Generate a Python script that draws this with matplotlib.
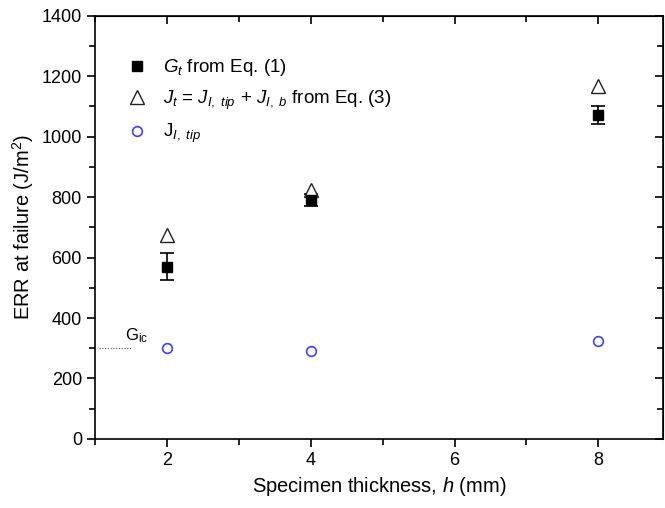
import matplotlib
matplotlib.use("Agg")
import matplotlib.pyplot as plt
from matplotlib.lines import Line2D
from matplotlib.ticker import MultipleLocator

# values
h = [2, 4, 8]
g_t = [570, 790, 1072]
g_t_err = [45, 20, 30]
j_t = [675, 822, 1169]
j_tip = [302, 291, 325]
g_ic = 300

plt.rcParams["font.family"] = "Liberation Sans"
plt.rcParams["mathtext.fontset"] = "custom"
plt.rcParams["mathtext.rm"] = "Liberation Sans"
plt.rcParams["mathtext.it"] = "Liberation Sans:italic"

fig = plt.figure(figsize=(6.65, 5.08), dpi=100)
ax = fig.add_axes([0.143, 0.136, 0.854, 0.833])

ax.errorbar(h, g_t, yerr=g_t_err, fmt="s", color="black", ms=6.5,
            capsize=5, elinewidth=1.2, capthick=1.2)
ax.plot(h, j_t, "^", mfc="white", mec="#222222", ms=10, mew=1.0, ls="none")
ax.plot(h, j_tip, "o", mfc="none", mec="#4040ff", ms=7, mew=1.2, ls="none")

# G_ic reference mark
ax.plot([1.05, 1.5], [g_ic, g_ic], ls=(0, (1, 1.5)), color="#555555", lw=0.8)
ax.text(1.42, g_ic + 12, r"G$_{\mathrm{ic}}$", fontsize=12, ha="left", va="bottom")

ax.set_xlim(1, 8.9)
ax.set_ylim(0, 1400)
ax.set_xticks([2, 4, 6, 8])
ax.xaxis.set_minor_locator(MultipleLocator(1))
ax.yaxis.set_major_locator(MultipleLocator(200))
ax.yaxis.set_minor_locator(MultipleLocator(100))

ax.tick_params(which="both", direction="out", width=1.2, labelsize=13)
ax.tick_params(which="major", length=6)
ax.tick_params(which="minor", length=4)
for s in ax.spines.values():
    s.set_linewidth(1.2)

# inward ticks on top and right, no labels
top = ax.secondary_xaxis("top")
top.set_xticks([2, 4, 6, 8])
top.xaxis.set_minor_locator(MultipleLocator(1))
top.tick_params(which="both", direction="in", labeltop=False, width=1.2)
top.tick_params(which="major", length=6)
top.tick_params(which="minor", length=4)
right = ax.secondary_yaxis("right")
right.yaxis.set_major_locator(MultipleLocator(200))
right.yaxis.set_minor_locator(MultipleLocator(100))
right.tick_params(which="both", direction="in", labelright=False, width=1.2)
right.tick_params(which="major", length=6)
right.tick_params(which="minor", length=4)

ax.set_xlabel(r"Specimen thickness, $h$ (mm)", fontsize=14.5)
ax.set_ylabel(r"ERR at failure (J/m$^2$)", fontsize=14.5)

handles = [
    Line2D([], [], marker="s", color="black", ms=6.5, ls="none"),
    Line2D([], [], marker="^", mfc="white", mec="#222222", ms=10, mew=1.0, ls="none"),
    Line2D([], [], marker="o", mfc="none", mec="#4040ff", ms=7, mew=1.2, ls="none"),
]
labels = [
    r"$G_t$ from Eq. (1)",
    r"$J_t$ = $J_{I,\ tip}$ + $J_{I,\ b}$ from Eq. (3)",
    r"J$_{I,\ tip}$",
]
ax.legend(handles, labels, loc="upper left", bbox_to_anchor=(0.04, 0.92),
          frameon=False, fontsize=13.5, handlelength=1.2, handletextpad=0.8,
          labelspacing=0.55, borderaxespad=0)

fig.savefig("out.png", dpi=100)
